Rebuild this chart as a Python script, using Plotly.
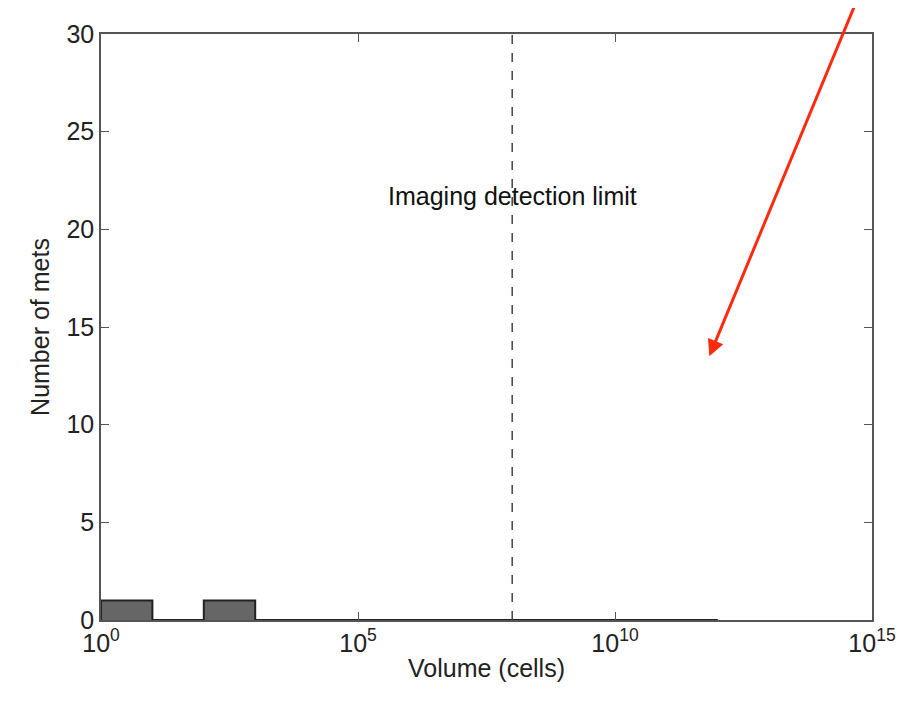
import numpy as np
import plotly.graph_objects as go

# histogram of met volumes (log10 bin edges) and counts
bin_edges_log = [0, 1, 2, 3, 4, 5, 6, 7, 8, 9, 10, 11, 12]
counts = [1, 0, 1, 0, 0, 0, 0, 0, 0, 0, 0, 0]
detection_limit = 1e8
tick_vals = [1, 1e5, 1e10, 1e15]
tick_text = ["10<sup>0</sup>", "10<sup>5</sup>", "10<sup>10</sup>", "10<sup>15</sup>"]
y_ticks = [0, 5, 10, 15, 20, 25, 30]

# step outline of the histogram
xs, ys = [], []
for i, c in enumerate(counts):
    xs += [10 ** bin_edges_log[i], 10 ** bin_edges_log[i], 10 ** bin_edges_log[i + 1], 10 ** bin_edges_log[i + 1]]
    ys += [0, c, c, 0]

fig = go.Figure()
fig.add_trace(go.Scatter(x=xs, y=ys, mode="lines", fill="tozeroy",
                         fillcolor="#666666", line=dict(color="#222222", width=2),
                         hoverinfo="skip"))
fig.add_trace(go.Scatter(x=[detection_limit, detection_limit], y=[0, 30], mode="lines",
                         line=dict(color="#444444", width=1.5, dash="dash"),
                         hoverinfo="skip"))

fig.add_annotation(x=np.log10(detection_limit), y=21.7, text="Imaging detection limit",
                   showarrow=False, font=dict(size=25, color="#111111"))
# red arrow
fig.add_annotation(x=0.789, y=0.45, ax=0.978, ay=1.05, xref="x domain", yref="y domain",
                   axref="x domain", ayref="y domain", text="", showarrow=True,
                   arrowhead=2, arrowsize=1.1, arrowwidth=3, arrowcolor="#ff2a0f")

axis_common = dict(showgrid=False, zeroline=False, showline=True, linecolor="#555555",
                   linewidth=1.5, mirror="ticks", ticks="inside", ticklen=8,
                   tickcolor="#555555", tickfont=dict(size=25, color="#222222"))
fig.update_xaxes(type="log", range=[0, 15], tickvals=tick_vals, ticktext=tick_text,
                 title=dict(text="Volume (cells)", font=dict(size=25, color="#222222"), standoff=4),
                 **axis_common)
fig.update_yaxes(range=[0, 30.0001], tickvals=y_ticks,
                 title=dict(text="Number of mets", font=dict(size=25, color="#222222"), standoff=10),
                 **axis_common)

fig.update_layout(width=910, height=716, showlegend=False,
                  plot_bgcolor="white", paper_bgcolor="white",
                  font=dict(family="Liberation Sans, Arial"),
                  margin=dict(l=93, r=46, t=16, b=104))

fig.write_html("out.html")
